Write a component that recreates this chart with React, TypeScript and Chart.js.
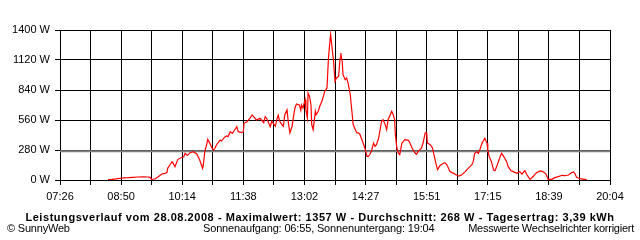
import { useEffect, useRef } from "react";
import { Chart, registerables } from "chart.js";
Chart.register(...registerables);

// Time of day in minutes since midnight
const times = [512,517,523,528,534,540,546,553,560,567,570,572,577,581,586,590,593,594,597,600,601,604,608,614,616,618,621,625,629,634,638,642,643,645,648,649,652,655,657,659,661,666,668,672,675,677,680,683,686,689,691,696,698,699,703,707,710,712,716,721,726,728,730,735,737,739,742,744,746,748,751,753,755,758,760,762,765,767,769,771,775,777,778,780,783,784,786,787,789,791,792,794,797,798,801,803,806,808,810,813,815,817,818,820,822,824,826,829,831,832,834,835,838,840,842,845,847,849,852,854,856,858,861,865,868,870,872,874,877,879,881,884,886,888,890,893,895,897,900,902,904,906,907,909,911,913,916,918,920,925,927,930,934,936,938,943,945,948,950,951,955,958,960,962,965,968,973,975,978,982,987,991,994,998,1003,1007,1012,1014,1016,1019,1021,1023,1026,1030,1033,1034,1036,1039,1042,1044,1047,1051,1053,1055,1060,1062,1066,1069,1074,1078,1081,1085,1088,1092,1097,1101,1106,1110,1114,1117,1122,1126,1131,1136,1140,1145,1149,1152,1154,1156,1161,1165,1170];
// Power in W
const watts = [3,5,10,15,20,22,25,28,30,28,25,5,12,30,56,62,70,109,140,171,163,124,193,212,215,249,230,255,264,243,187,109,140,264,342,380,342,296,280,296,327,373,364,398,411,405,451,435,467,498,451,442,451,529,544,576,607,591,560,576,535,591,576,498,548,532,501,563,604,548,517,501,610,656,530,439,501,594,672,709,700,650,700,672,750,656,579,812,781,700,517,470,641,610,641,688,735,781,828,859,1139,1294,1357,1232,1107,921,952,968,1139,1185,1100,983,937,952,905,796,656,517,470,439,440,430,376,299,221,221,240,268,345,314,330,392,470,547,563,517,470,563,610,641,610,563,423,299,252,236,345,360,376,370,345,299,252,240,262,299,345,439,439,345,330,299,236,174,96,134,156,162,140,78,62,47,37,47,78,109,140,171,249,264,249,280,342,389,342,280,218,171,93,87,140,218,249,230,171,124,87,78,62,78,56,87,47,6,37,68,84,78,56,6,6,22,31,44,40,47,68,75,56,25,12,9,3];

const averageW = 268;
const xStart = 446; // 07:26
const xEnd = 1202;
const xStep = 42;
const xTickLabels = ["07:26","08:50","10:14","11:38","13:02","14:27","15:51","17:15","18:39","20:04"];
const yMax = 1400;
const yStep = 280;

const titleText = "Leistungsverlauf vom 28.08.2008 - Maximalwert: 1357 W - Durchschnitt: 268 W - Tagesertrag: 3,39 kWh";
const footLeft = "© SunnyWeb";
const footMid = "Sonnenaufgang: 06:55, Sonnenuntergang: 19:04";
const footRight = "Messwerte Wechselrichter korrigiert";

const FONT = "'Liberation Sans', Arial, sans-serif";

export default function App() {
  const ref = useRef<HTMLCanvasElement | null>(null);
  useEffect(() => {
    document.body.style.margin = "0";
    const canvas = ref.current;
    if (!canvas) return;
    const chart = new Chart(canvas, {
      type: "line",
      data: {
        datasets: [
          {
            data: times.map((t, i) => ({ x: t, y: watts[i] })),
            borderColor: "#ff0000",
            borderWidth: 1.2,
            pointRadius: 0,
            tension: 0,
            fill: false,
            order: 0,
          },
          {
            data: [{ x: xStart, y: averageW }, { x: xEnd, y: averageW }],
            borderColor: "#808080",
            borderWidth: 2,
            pointRadius: 0,
            fill: false,
            order: 1,
          },
        ],
      },
      options: {
        animation: false,
        responsive: false,
        maintainAspectRatio: false,
        layout: { padding: { top: 30, right: 30, left: 0, bottom: 0 } },
        plugins: { legend: { display: false }, tooltip: { enabled: false }, title: { display: false } },
        scales: {
          x: {
            type: "linear",
            min: xStart,
            max: xEnd,
            afterBuildTicks: (scale: any) => {
              const ticks = [];
              for (let v = xStart; v <= xEnd; v += xStep) ticks.push({ value: v });
              scale.ticks = ticks;
            },
            afterFit: (scale: any) => {
              scale.height = 60;
            },
            ticks: {
              autoSkip: false,
              maxRotation: 0,
              minRotation: 0,
              padding: 5,
              color: "#000",
              font: { family: FONT, size: 11 },
              callback: (_v: any, index: number) => (index % 2 === 0 ? xTickLabels[index / 2] : ""),
            },
            grid: { color: "#000", lineWidth: 1, tickLength: 5, drawTicks: true },
            border: { display: true, color: "#000" },
          },
          y: {
            min: 0,
            max: yMax,
            afterFit: (scale: any) => {
              scale.width = 60;
            },
            ticks: {
              stepSize: yStep,
              padding: 5,
              color: "#000",
              font: { family: FONT, size: 11 },
              callback: (v: any) => `${v} W`,
            },
            grid: { color: "#000", lineWidth: 1, tickLength: 5 },
            border: { display: true, color: "#000" },
          },
        },
      },
    });
    return () => chart.destroy();
  }, []);

  const base: React.CSSProperties = {
    position: "absolute",
    fontFamily: FONT,
    fontSize: "11px",
    lineHeight: "13px",
    color: "#000",
    whiteSpace: "nowrap",
  };
  return (
    <div style={{ position: "relative", width: 640, height: 240, background: "#fff", overflow: "hidden" }}>
      <canvas ref={ref} width={640} height={240} style={{ position: "absolute", left: 0, top: 0, width: 640, height: 240 }} />
      <div style={{ ...base, left: 0, width: 640, top: 211, textAlign: "center", fontWeight: "bold", letterSpacing: "0.55px" }}>{titleText}</div>
      <div style={{ ...base, left: 7, top: 222, letterSpacing: "-0.2px" }}>{footLeft}</div>
      <div style={{ ...base, left: 203, top: 222, letterSpacing: "-0.16px" }}>{footMid}</div>
      <div style={{ ...base, right: 6, top: 222, letterSpacing: "-0.25px" }}>{footRight}</div>
    </div>
  );
}
